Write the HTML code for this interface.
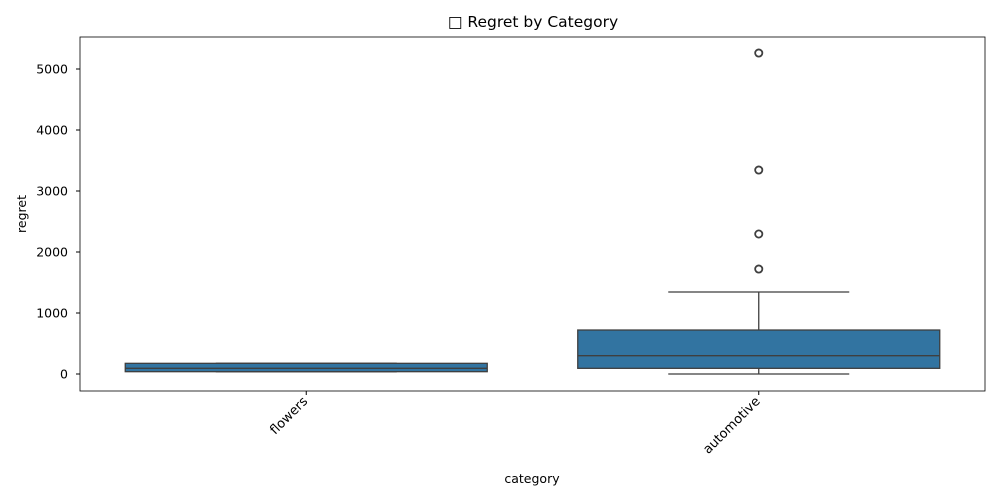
<!DOCTYPE html>
<html><head><meta charset="utf-8"><style>
body{margin:0;background:#fff;font-family:"DejaVu Sans","Liberation Sans",sans-serif}
svg text{font-family:"DejaVu Sans","Liberation Sans",sans-serif;font-size:12.5px;fill:#000}
</style></head><body>
<svg id="c" width="1000" height="500"></svg>
<script>
const categories=["flowers","automotive"];
const q1=[38,93];
const medians=[93,300];
const q3=[175,721];
const whiskLow=[38,0];
const whiskHigh=[175,1344];
const outliers=[[],[1721,2295,3344,5262]];
const yTicks=[0,1000,2000,3000,4000,5000];
const L=80,R=985,T=37,B=391;
const y=v=>374-v*0.061;
const x=i=>L+(i+0.5)*(R-L)/2;
const NS="http://www.w3.org/2000/svg";
const svg=document.getElementById('c');
function mk(t,a,p){const e=document.createElementNS(NS,t);for(const k in a)e.setAttribute(k,a[k]);(p||svg).appendChild(e);return e;}
let t=mk('text',{x:533,y:27,'text-anchor':'middle',style:'font-size:15.5px'});t.textContent='\u25A1 Regret by Category';

yTicks.forEach(v=>{mk('line',{x1:L-4,x2:L,y1:y(v),y2:y(v),stroke:'#000'});
 let tt=mk('text',{x:L-12,y:y(v)+4.5,'text-anchor':'end'});tt.textContent=v;
 });
const bw=(R-L)/2*0.8;
categories.forEach((c,i)=>{
 const cx=x(i),g=mk('g',{});
 
 mk('line',{x1:cx,x2:cx,y1:y(q3[i]),y2:y(whiskHigh[i]),stroke:'#3f3f3f','stroke-width':1.3},g);
 mk('line',{x1:cx,x2:cx,y1:y(q1[i]),y2:y(whiskLow[i]),stroke:'#3f3f3f','stroke-width':1.3},g);
 mk('line',{x1:cx-bw/4,x2:cx+bw/4,y1:y(whiskHigh[i]),y2:y(whiskHigh[i]),stroke:'#3f3f3f','stroke-width':1.3},g);
 mk('line',{x1:cx-bw/4,x2:cx+bw/4,y1:y(whiskLow[i]),y2:y(whiskLow[i]),stroke:'#3f3f3f','stroke-width':1.3},g);
 mk('rect',{x:cx-bw/2,y:y(q3[i]),width:bw,height:y(q1[i])-y(q3[i]),fill:'#3274a1',stroke:'#3f3f3f','stroke-width':1.3},g);
 mk('line',{x1:cx-bw/2,x2:cx+bw/2,y1:y(medians[i]),y2:y(medians[i]),stroke:'#3f3f3f','stroke-width':1.3},g);
 outliers[i].forEach(v=>{const o=mk('circle',{cx:cx,cy:y(v),r:3.6,fill:'none',stroke:'#3f3f3f','stroke-width':1.8},g);
  });
 mk('line',{x1:cx,x2:cx,y1:B,y2:B+4,stroke:'#000'});
 const lt=mk('text',{x:0,y:0,'text-anchor':'end',style:'font-size:13px',transform:`translate(${cx+2},${B+11}) rotate(-45)`});lt.textContent=c;
 
});
const fr=mk('rect',{x:L,y:T,width:R-L,height:B-T,fill:'none',stroke:'#000','stroke-width':0.8});

let xl=mk('text',{x:532,y:483,'text-anchor':'middle'});xl.textContent='category';

let yl=mk('text',{x:0,y:0,'text-anchor':'middle',transform:'translate(26,214) rotate(-90)'});yl.textContent='regret';

</script></body></html>
